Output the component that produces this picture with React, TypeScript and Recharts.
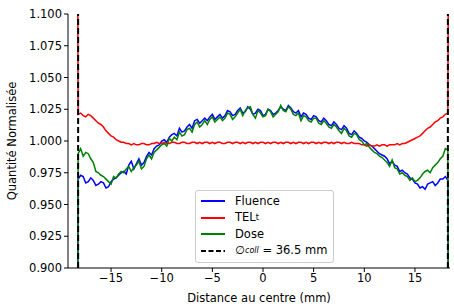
import { Line, LineChart, ReferenceLine, XAxis, YAxis } from "recharts";

// distance au centre (mm), one row = 2 mm
const xValues = [
  -18.3, -18.25, -18, -17.75, -17.5, -17.25, -17, -16.75,
  -16.5, -16.25, -16, -15.75, -15.5, -15.25, -15, -14.75,
  -14.5, -14.25, -14, -13.75, -13.5, -13.25, -13, -12.75,
  -12.5, -12.25, -12, -11.75, -11.5, -11.25, -11, -10.75,
  -10.5, -10.25, -10, -9.75, -9.5, -9.25, -9, -8.75,
  -8.5, -8.25, -8, -7.75, -7.5, -7.25, -7, -6.75,
  -6.5, -6.25, -6, -5.75, -5.5, -5.25, -5, -4.75,
  -4.5, -4.25, -4, -3.75, -3.5, -3.25, -3, -2.75,
  -2.5, -2.25, -2, -1.75, -1.5, -1.25, -1, -0.75,
  -0.5, -0.25, 0, 0.25, 0.5, 0.75, 1, 1.25,
  1.5, 1.75, 2, 2.25, 2.5, 2.75, 3, 3.25,
  3.5, 3.75, 4, 4.25, 4.5, 4.75, 5, 5.25,
  5.5, 5.75, 6, 6.25, 6.5, 6.75, 7, 7.25,
  7.5, 7.75, 8, 8.25, 8.5, 8.75, 9, 9.25,
  9.5, 9.75, 10, 10.25, 10.5, 10.75, 11, 11.25,
  11.5, 11.75, 12, 12.25, 12.5, 12.75, 13, 13.25,
  13.5, 13.75, 14, 14.25, 14.5, 14.75, 15, 15.25,
  15.5, 15.75, 16, 16.25, 16.5, 16.75, 17, 17.25,
  17.5, 17.75, 18, 18.25, 18.3,
];

const fluence = [
  0.85, 0.97, 0.973, 0.972, 0.967, 0.968, 0.971, 0.969,
  0.965, 0.966, 0.968, 0.967, 0.963, 0.964, 0.968, 0.97,
  0.971, 0.973, 0.975, 0.976, 0.974, 0.981, 0.984, 0.978,
  0.982, 0.986, 0.981, 0.983, 0.988, 0.991, 0.989, 0.994,
  0.996, 0.997, 1.0, 1.001, 0.999, 1.003, 1.005, 1.006,
  1.004, 1.01, 1.007, 1.008, 1.011, 1.013, 1.01, 1.016,
  1.017, 1.014, 1.016, 1.018, 1.016, 1.019, 1.021, 1.017,
  1.019, 1.021, 1.018, 1.02, 1.024, 1.023, 1.02, 1.021,
  1.024, 1.026, 1.022, 1.023, 1.027, 1.025, 1.021, 1.022,
  1.025, 1.024, 1.02, 1.021, 1.025, 1.024, 1.021, 1.022,
  1.024, 1.027, 1.025, 1.024, 1.028, 1.026, 1.023, 1.022,
  1.024, 1.019, 1.022, 1.021, 1.018, 1.017, 1.02, 1.019,
  1.016, 1.015, 1.018, 1.016, 1.013, 1.012, 1.015, 1.013,
  1.01, 1.009, 1.012, 1.01, 1.006, 1.005, 1.008, 1.006,
  1.003, 1.002, 1.0, 0.999, 0.997, 0.996, 0.994, 0.992,
  0.99, 0.989, 0.988, 0.986, 0.982, 0.984, 0.981, 0.98,
  0.976, 0.977, 0.975, 0.974, 0.971, 0.97, 0.967, 0.966,
  0.963, 0.964, 0.962, 0.966, 0.967, 0.968, 0.965, 0.967,
  0.97, 0.97, 0.972, 0.969, 0.85,
];

const tel = [
  1.15, 1.021, 1.022, 1.02, 1.019, 1.021, 1.02, 1.018,
  1.016, 1.014, 1.013, 1.011, 1.008, 1.006, 1.004, 1.003,
  1.001, 1.0, 0.999, 0.999, 0.998, 0.998, 0.997, 0.998,
  0.997, 0.997, 0.998, 0.998, 0.997, 0.997, 0.998, 0.998,
  0.999, 0.998, 0.998, 0.999, 0.998, 0.998, 0.999, 0.999,
  0.998, 0.998, 0.999, 0.999, 0.998, 0.998, 0.999, 0.999,
  0.998, 0.999, 0.998, 0.999, 0.999, 0.998, 0.999, 0.998,
  0.999, 0.999, 0.998, 0.998, 0.999, 0.999, 0.998, 0.999,
  0.999, 0.998, 0.999, 0.998, 0.999, 0.999, 0.998, 0.999,
  0.998, 0.999, 0.999, 0.998, 0.999, 0.998, 0.999, 0.999,
  0.998, 0.999, 0.998, 0.999, 0.999, 0.998, 0.999, 0.998,
  0.999, 0.999, 0.998, 0.999, 0.998, 0.999, 0.999, 0.998,
  0.999, 0.998, 0.999, 0.999, 0.998, 0.999, 0.998, 0.999,
  0.999, 0.998, 0.999, 0.998, 0.998, 0.999, 0.998, 0.998,
  0.998, 0.997, 0.997, 0.996, 0.997, 0.996, 0.996, 0.997,
  0.996, 0.997, 0.997, 0.996, 0.997, 0.997, 0.997, 0.998,
  0.997, 0.998, 0.998, 0.999, 1.0, 1.001, 1.002, 1.003,
  1.004, 1.006, 1.008, 1.01, 1.011, 1.013, 1.015, 1.016,
  1.018, 1.019, 1.021, 1.022, 1.15,
];

const dose = [
  0.85, 0.99, 0.994, 0.988, 0.991, 0.99, 0.986, 0.983,
  0.976, 0.975, 0.973, 0.972, 0.97, 0.968, 0.966, 0.972,
  0.971, 0.974, 0.976, 0.975, 0.978, 0.98, 0.976, 0.979,
  0.981, 0.984, 0.978, 0.98, 0.986, 0.989, 0.986, 0.991,
  0.993, 0.995, 0.997, 0.998, 0.996, 1.002, 1.0, 1.003,
  1.001, 1.007, 1.004, 1.005, 1.009, 1.01, 1.007, 1.013,
  1.015, 1.011, 1.013, 1.016, 1.013, 1.017, 1.019, 1.015,
  1.017, 1.019, 1.016, 1.018, 1.022, 1.021, 1.017, 1.019,
  1.022, 1.025, 1.02, 1.024, 1.026, 1.027, 1.021, 1.018,
  1.024, 1.022, 1.019, 1.02, 1.025, 1.023, 1.019, 1.021,
  1.023, 1.028, 1.024, 1.023, 1.027, 1.025, 1.021, 1.02,
  1.022, 1.016, 1.02, 1.019, 1.016, 1.015, 1.018, 1.018,
  1.014, 1.013, 1.016, 1.014, 1.011, 1.01, 1.013, 1.011,
  1.008, 1.006, 1.01, 1.008, 1.004, 1.003, 1.006, 1.005,
  1.001, 1.0, 0.997, 0.998, 0.995, 0.993, 0.991, 0.99,
  0.988, 0.987, 0.985, 0.983, 0.98, 0.985, 0.979, 0.978,
  0.974, 0.975, 0.973, 0.972, 0.969, 0.971, 0.968, 0.969,
  0.971, 0.974, 0.976, 0.977, 0.975, 0.979, 0.981, 0.983,
  0.986, 0.988, 0.994, 0.993, 0.85,
];

const xTicks = [-15, -10, -5, 0, 5, 10, 15];
const yTicks = [0.9, 0.925, 0.95, 0.975, 1.0, 1.025, 1.05, 1.075, 1.1];
const collimator = 18.25;

const data = xValues.map((x, i) => ({ x, fluence: fluence[i], tel: tel[i], dose: dose[i] }));

const font = "DejaVu Sans";

function LegendBox() {
  const row = { display: "flex", alignItems: "center", height: 16.5 } as const;
  const sample = (color: string, dashed = false) => (
    <svg width={24} height={4} style={{ marginRight: 10 }}>
      <line x1={0} y1={2} x2={24} y2={2} stroke={color} strokeWidth={2} strokeDasharray={dashed ? "5 2.5" : undefined} />
    </svg>
  );
  return (
    <div
      style={{
        position: "absolute",
        left: 195,
        top: 190,
        background: "rgba(255,255,255,0.8)",
        border: "1px solid #cccccc",
        borderRadius: 3,
        padding: "2px 6px 3px 5px",
        fontFamily: font,
        fontSize: 11.5,
        color: "#000",
        lineHeight: 1,
      }}
    >
      <div style={row}>{sample("#0000ff")}Fluence</div>
      <div style={row}>
        {sample("#ff0000")}TEL<sub style={{ fontSize: 8, verticalAlign: -3 }}>t</sub>
      </div>
      <div style={row}>{sample("#008000")}Dose</div>
      <div style={row}>
        {sample("#000000", true)}
        <span style={{ fontStyle: "italic" }}>∅</span>
        <sub style={{ fontSize: 8, fontStyle: "italic", verticalAlign: -3 }}>coll</sub>
        <span>&nbsp;= 36.5 mm</span>
      </div>
    </div>
  );
}

export default function App() {
  return (
    <div style={{ position: "absolute", left: 0, top: 0, width: 454, height: 304, background: "#fff" }}>
      <LineChart width={454} height={304} data={data} margin={{ top: 14, right: 4, bottom: 0, left: 0 }}>
        <XAxis
          dataKey="x"
          type="number"
          domain={[-19.25, 18.46]}
          ticks={xTicks}
          allowDataOverflow
          height={36}
          stroke="#000"
          tickSize={4}
          tick={{ fill: "#000", fontSize: 11.5, fontFamily: font }}
          tickFormatter={(v: number) => (v < 0 ? `\u2212${Math.abs(v)}` : `${v}`)}
          label={{ value: "Distance au centre (mm)", position: "insideBottom", offset: 2, fill: "#000", fontSize: 11.5, fontFamily: font }}
        />
        <XAxis xAxisId="top" orientation="top" dataKey="x" type="number" domain={[-19.25, 18.46]} height={0} tick={false} tickLine={false} stroke="#000" />
        <YAxis
          type="number"
          domain={[0.9, 1.1]}
          ticks={yTicks}
          allowDataOverflow
          width={68}
          stroke="#000"
          tickSize={4}
          tick={{ fill: "#000", fontSize: 11.5, fontFamily: font }}
          tickFormatter={(v: number) => v.toFixed(3)}
          label={{ value: "Quantité Normalisée", angle: -90, position: "insideLeft", offset: 12, style: { textAnchor: "middle" }, fill: "#000", fontSize: 11.5, fontFamily: font }}
        />
        <YAxis yAxisId="right" orientation="right" domain={[0.9, 1.1]} width={0} tick={false} tickLine={false} stroke="#000" />
        <Line type="linear" dataKey="fluence" stroke="#0000ff" strokeWidth={1.5} dot={false} isAnimationActive={false} />
        <Line type="linear" dataKey="tel" stroke="#ff0000" strokeWidth={1.5} dot={false} isAnimationActive={false} />
        <Line type="linear" dataKey="dose" stroke="#008000" strokeWidth={1.5} dot={false} isAnimationActive={false} />
        <ReferenceLine x={-collimator} stroke="#000" strokeWidth={2} strokeDasharray="6 3" />
        <ReferenceLine x={collimator} stroke="#000" strokeWidth={2} strokeDasharray="6 3" />
      </LineChart>
      <LegendBox />
    </div>
  );
}
